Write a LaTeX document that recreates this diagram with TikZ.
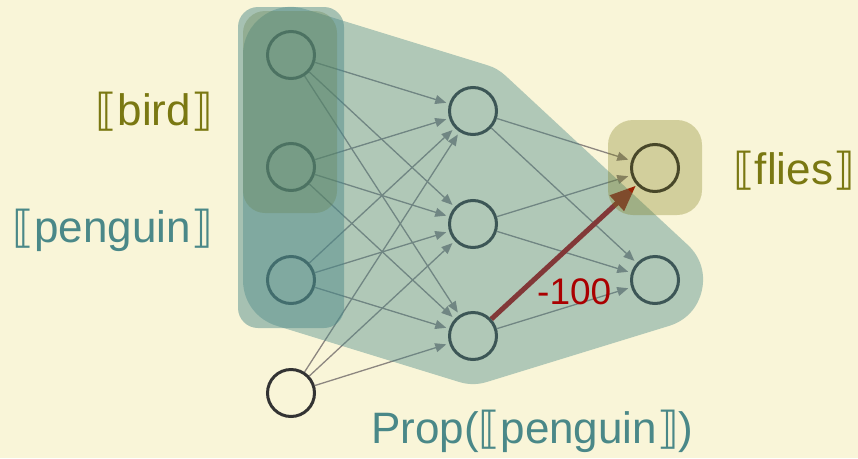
\documentclass[tikz,border=0pt]{standalone}
\usepackage{fontspec}
\setmainfont{Liberation Sans}
\newfontfamily\semfont{DejaVu Sans}
\usetikzlibrary{arrows.meta}
\definecolor{paper}{RGB}{249,245,216}
\definecolor{tealc}{RGB}{74,136,136}
\definecolor{olivec}{RGB}{122,120,18}
\definecolor{wirec}{RGB}{140,134,128}
\definecolor{ink}{RGB}{51,51,51}
\definecolor{weightc}{RGB}{170,0,0}
\newcommand\osem{{\semfont ⟦}}
\newcommand\csem{{\semfont ⟧}}
\begin{document}
\begin{tikzpicture}[x=1pt,y=-1pt,
  neuron/.style={circle,draw=ink,line width=3pt,minimum size=47pt,inner sep=0pt},
  wire/.style={draw=wirec,line width=1.3pt,-{Triangle[length=11pt,width=9pt]},shorten >=3pt},
  heavy/.style={draw=weightc,line width=5pt,-{Triangle[length=26pt,width=20pt]},shorten >=1pt},
  lab/.style={inner sep=0pt,font=\fontsize{44}{50}\selectfont},
]
\fill[paper] (0,0) rectangle (858,458);
\useasboundingbox (0,0) rectangle (858,458);

% neurons: input layer, bias, hidden layer, output layer
\node[neuron] (i1) at (291,55) {};
\node[neuron] (i2) at (291,167) {};
\node[neuron] (i3) at (291,280) {};
\node[neuron] (b) at (291,393) {};
\node[neuron] (h1) at (473,111) {};
\node[neuron] (h2) at (473,224) {};
\node[neuron] (h3) at (473,336) {};
\node[neuron] (o1) at (655,168) {};
\node[neuron] (o2) at (655,280) {};

% connections
\foreach \s in {i1,i2,i3,b}
  \foreach \t in {h1,h2,h3}
    \draw[wire] (\s) -- (\t);
\draw[wire] (h1) -- (o1);
\draw[wire] (h1) -- (o2);
\draw[wire] (h2) -- (o1);
\draw[wire] (h2) -- (o2);
\draw[wire] (h3) -- (o2);
\draw[heavy] (h3) -- (o1);

% translucent concept regions
\begin{scope}[transparency group, opacity=0.41]
  \filldraw[tealc, line width=96pt, line join=round]
    (i1.center) -- (h1.center) -- (o2.center) -- (h3.center) -- (i3.center) -- cycle;
\end{scope}
\fill[olivec, opacity=0.3, rounded corners=22pt] (243,11) rectangle (337,213);
\fill[tealc, opacity=0.47, rounded corners=20pt] (238,7) rectangle (344,328);
\fill[olivec, opacity=0.3, rounded corners=25pt] (608,120) rectangle (702,215);

% labels
\node[lab, text=olivec, anchor=base east] (bird) at (213,125) {\osem bird\csem};
\node[lab, text=tealc, anchor=base east] (penguin) at (213,242) {\osem penguin\csem};
\node[lab, text=olivec, anchor=base west] (flies) at (733,184) {\osem flies\csem};
\node[lab, text=tealc, anchor=base west] (prop) at (371,443) {Prop(\osem penguin\csem)};
\node[inner sep=0pt, text=weightc, font=\fontsize{37}{40}\selectfont, anchor=base west] (w) at (537,304) {-100};
\end{tikzpicture}
\end{document}
